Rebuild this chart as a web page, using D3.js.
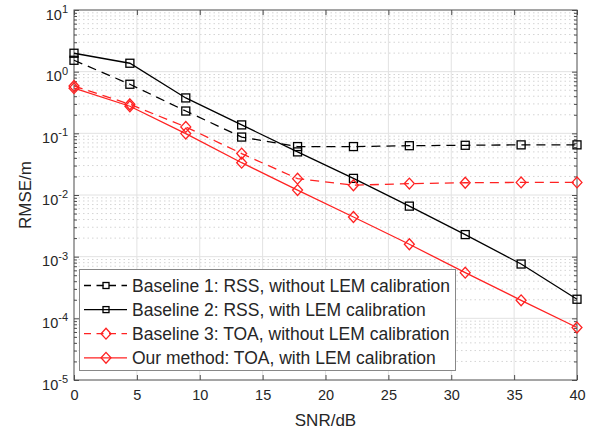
<!DOCTYPE html>
<html><head><meta charset="utf-8">
<script src="https://cdn.jsdelivr.net/npm/d3@7"></script>
<style>body{margin:0;background:#fff}svg{display:block}text{font-family:"Liberation Sans",Arial,sans-serif;fill:#262626}</style>
</head><body><svg id="c" width="605" height="431"></svg>
<script>
const snr = [0, 4.444, 8.889, 13.333, 17.778, 22.222, 26.667, 31.111, 35.556, 40];
const baseline1 = [1.53, 0.625, 0.23, 0.087, 0.061, 0.061, 0.063, 0.064, 0.065, 0.065];
const baseline2 = [1.99, 1.37, 0.375, 0.137, 0.050, 0.0186, 0.0066, 0.00228, 0.00076, 0.000204];
const baseline3 = [0.586, 0.296, 0.127, 0.047, 0.0184, 0.0144, 0.0153, 0.0158, 0.016, 0.016];
const ours = [0.54, 0.275, 0.099, 0.0334, 0.0120, 0.0044, 0.00159, 0.00055, 0.000196, 0.000071];
const seriesNames = ["Baseline 1: RSS, without LEM calibration","Baseline 2: RSS, with LEM calibration","Baseline 3: TOA, without LEM calibration","Our method: TOA, with LEM calibration"];
const xTicks = [0,5,10,15,20,25,30,35,40];
const yExps = [-5,-4,-3,-2,-1,0,1];

const series = [
  {name: seriesNames[0], vals: baseline1, color: "#000", dash: "9,6", marker: "square"},
  {name: seriesNames[1], vals: baseline2, color: "#000", dash: null, marker: "square"},
  {name: seriesNames[2], vals: baseline3, color: "#f22", dash: "9,6", marker: "diamond"},
  {name: seriesNames[3], vals: ours, color: "#f22", dash: null, marker: "diamond"}
];

const L=74, R=577, T=10, B=380;
const svg = d3.select("#c");
const x = d3.scaleLinear().domain([0,40]).range([L,R]);
const y = d3.scaleLog().domain([1e-5,10]).range([B,T]);

// minor grid (dotted)
const minor = [];
for (let e=-5;e<1;e++) for (let k=2;k<=9;k++) minor.push(k*Math.pow(10,e));
svg.append("g").selectAll("line").data(minor).join("line")
  .attr("x1",L).attr("x2",R).attr("y1",d=>y(d)).attr("y2",d=>y(d))
  .attr("stroke","#d4d4d4").attr("stroke-width",1).attr("stroke-dasharray","1.5,3");
// major grid
svg.append("g").selectAll("line").data(xTicks.slice(1,-1)).join("line")
  .attr("x1",d=>x(d)).attr("x2",d=>x(d)).attr("y1",T).attr("y2",B)
  .attr("stroke","#e2e2e2").attr("stroke-width",1);
svg.append("g").selectAll("line").data(yExps.slice(1,-1)).join("line")
  .attr("x1",L).attr("x2",R).attr("y1",d=>y(Math.pow(10,d))).attr("y2",d=>y(Math.pow(10,d)))
  .attr("stroke","#e2e2e2").attr("stroke-width",1);

// axes with inward ticks
const ax = "#4d4d4d";
const gB = svg.append("g").attr("transform",`translate(0,${B})`)
  .call(d3.axisBottom(x).tickValues(xTicks).tickSizeInner(-5).tickSizeOuter(0).tickPadding(10));
svg.append("g").attr("transform",`translate(0,${T})`)
  .call(d3.axisTop(x).tickValues(xTicks).tickSizeInner(-5).tickSizeOuter(0).tickFormat(""));
const yMajorVals = yExps.map(e=>Math.pow(10,e));
svg.append("g").attr("transform",`translate(${L},0)`)
  .call(d3.axisLeft(y).tickValues(yMajorVals).tickSizeInner(-5).tickSizeOuter(0).tickFormat(""));
svg.append("g").attr("transform",`translate(${R},0)`)
  .call(d3.axisRight(y).tickValues(yMajorVals).tickSizeInner(-5).tickSizeOuter(0).tickFormat(""));
svg.append("g").attr("transform",`translate(${L},0)`)
  .call(d3.axisLeft(y).tickValues(minor).tickSizeInner(-3).tickSizeOuter(0).tickFormat(""));
svg.append("g").attr("transform",`translate(${R},0)`)
  .call(d3.axisRight(y).tickValues(minor).tickSizeInner(-3).tickSizeOuter(0).tickFormat(""));
svg.selectAll(".domain").remove();
svg.selectAll(".tick line").attr("stroke",ax);
gB.selectAll("text").attr("font-size",14.5).style("font-family","Liberation Sans, Arial, sans-serif").attr("fill","#262626");
svg.append("rect").attr("x",L).attr("y",T).attr("width",R-L).attr("height",B-T)
  .attr("fill","none").attr("stroke",ax).attr("stroke-width",1);

// y tick labels 10^e
yExps.forEach(e=>{
  const t = svg.append("text").attr("x",68).attr("y",y(Math.pow(10,e))+9.5).attr("text-anchor","end").attr("font-size",14.5);
  t.append("tspan").text("10");
  t.append("tspan").attr("dy",-6.5).attr("font-size",11).text(e);
});

svg.append("text").attr("x",(L+R)/2).attr("y",426).attr("text-anchor","middle").attr("font-size",17).text("SNR/dB");
svg.append("text").attr("transform",`translate(31,${(T+B)/2}) rotate(-90)`).attr("text-anchor","middle").attr("font-size",17).text("RMSE/m");

function drawMarker(g, type, cx, cy, color, s){
  if(type==="square"){
    g.append("rect").attr("x",cx-s/2).attr("y",cy-s/2).attr("width",s).attr("height",s)
      .attr("fill","none").attr("stroke",color).attr("stroke-width",1.3);
  } else {
    const w=s*0.62, h=s*0.68;
    g.append("path").attr("d",`M${cx},${cy-h}L${cx+w},${cy}L${cx},${cy+h}L${cx-w},${cy}Z`)
      .attr("fill","none").attr("stroke",color).attr("stroke-width",1.3);
  }
}

const line = d3.line().x((d,i)=>x(snr[i])).y(d=>y(d));
const plot = svg.append("g");
series.forEach(s=>{
  plot.append("path").datum(s.vals).attr("d",line).attr("fill","none")
    .attr("stroke",s.color).attr("stroke-width",1.3).attr("stroke-dasharray",s.dash);
  const mg = plot.append("g");
  s.vals.forEach((v,i)=>drawMarker(mg,s.marker,x(snr[i]),y(v),s.color,8));
});

// legend
const lg = svg.append("g");
lg.append("rect").attr("x",79.5).attr("y",269.5).attr("width",376).attr("height",101)
  .attr("fill","#fff").attr("stroke","#888").attr("stroke-width",1);
series.forEach((s,i)=>{
  const yy = 285.5 + i*24.1;
  lg.append("line").attr("x1",84).attr("x2",127).attr("y1",yy).attr("y2",yy)
    .attr("stroke",s.color).attr("stroke-width",1.3).attr("stroke-dasharray",s.dash?"7,5.5":null);
  drawMarker(lg,s.marker,106,yy,s.color,s.marker==="square"?6:8);
  lg.append("text").attr("x",132).attr("y",yy+6).attr("font-size",17.5).attr("fill","#000").text(s.name);
});
</script></body></html>
